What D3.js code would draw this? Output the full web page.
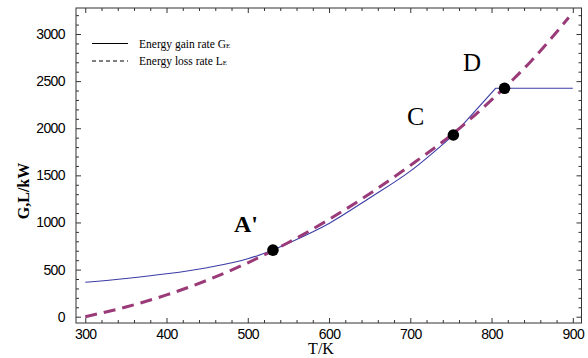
<!DOCTYPE html>
<html>
<head>
<meta charset="utf-8">
<script src="https://cdn.jsdelivr.net/npm/d3@7"></script>
<style>
  body { margin: 0; background: #fff; }
  svg { display: block; font-family: "Liberation Serif", "DejaVu Serif", serif; }
</style>
</head>
<body>
<svg id="chart" width="588" height="358"></svg>
<script>
// energy loss rate L (dashed)
const lossT = [300, 350, 400, 450, 500, 550, 600, 650, 700, 750, 800, 850, 895];
const lossV = [0, 103, 231, 387, 572, 787, 1032, 1305, 1605, 1925, 2300, 2725, 3175];

// energy gain rate G (solid): smooth part, then straight piece and flat tail
const gainT = [300, 350, 400, 450, 500, 531, 550, 600, 650, 700, 753];
const gainV = [365, 405, 455, 520, 615, 707, 780, 990, 1260, 1545, 1928];
const gainTailT = [753, 805, 900];
const gainTailV = [1928, 2424, 2424];

// marked points
const pointNames = ["A'", "C", "D"];
const pointT = [531, 753, 816];
const pointV = [707, 1928, 2424];

const xTicks = [300, 400, 500, 600, 700, 800, 900];
const yTicks = [0, 500, 1000, 1500, 2000, 2500, 3000];

const svg = d3.select("#chart");
const pLeft = 76, pRight = 581.5, pTop = 8, pBottom = 323;

const x = d3.scaleLinear().domain([288.6, 910.7]).range([pLeft, pRight]);
const y = d3.scaleLinear().domain([-66.9, 3276]).range([pBottom, pTop]);

const frameColor = "#333";

// axes: ticks pointing inward on all four sides
function styleAxis(g) {
  g.select(".domain").remove();
  g.selectAll(".tick line").attr("stroke", frameColor);
  g.selectAll("text").attr("font-size", 14).attr("fill", "#000").attr("letter-spacing", -0.6);
}

const xMinor = d3.range(300, 901, 20).filter(v => v % 100 !== 0);
const yMinor = d3.range(0, 3201, 100).filter(v => v % 500 !== 0);

svg.append("g").attr("transform", `translate(0,${pBottom})`)
  .call(d3.axisBottom(x).tickValues(xTicks).tickSize(-5).tickPadding(6).tickFormat(d3.format("d")))
  .call(styleAxis);
svg.append("g").attr("transform", `translate(0,${pBottom})`)
  .call(d3.axisBottom(x).tickValues(xMinor).tickSize(-3).tickFormat(""))
  .call(styleAxis);
svg.append("g").attr("transform", `translate(0,${pTop})`)
  .call(d3.axisTop(x).tickValues(xTicks).tickSize(-5).tickFormat(""))
  .call(styleAxis);
svg.append("g").attr("transform", `translate(0,${pTop})`)
  .call(d3.axisTop(x).tickValues(xMinor).tickSize(-3).tickFormat(""))
  .call(styleAxis);

svg.append("g").attr("transform", `translate(${pLeft},0)`)
  .call(d3.axisLeft(y).tickValues(yTicks).tickSize(-5).tickPadding(11).tickFormat(d3.format("d")))
  .call(styleAxis);
svg.append("g").attr("transform", `translate(${pLeft},0)`)
  .call(d3.axisLeft(y).tickValues(yMinor).tickSize(-3).tickFormat(""))
  .call(styleAxis);
svg.append("g").attr("transform", `translate(${pRight},0)`)
  .call(d3.axisRight(y).tickValues(yTicks).tickSize(-5).tickFormat(""))
  .call(styleAxis);
svg.append("g").attr("transform", `translate(${pRight},0)`)
  .call(d3.axisRight(y).tickValues(yMinor).tickSize(-3).tickFormat(""))
  .call(styleAxis);

// frame
svg.append("rect")
  .attr("x", pLeft).attr("y", pTop)
  .attr("width", pRight - pLeft).attr("height", pBottom - pTop)
  .attr("fill", "none").attr("stroke", frameColor).attr("stroke-width", 1);

// curves
const smooth = d3.line().x(d => x(d[0])).y(d => y(d[1])).curve(d3.curveMonotoneX);
const straight = d3.line().x(d => x(d[0])).y(d => y(d[1]));

svg.append("path")
  .attr("d", smooth(d3.zip(gainT, gainV)))
  .attr("fill", "none").attr("stroke", "#3c3ca6").attr("stroke-width", 1.1);
svg.append("path")
  .attr("d", straight(d3.zip(gainTailT, gainTailV)))
  .attr("fill", "none").attr("stroke", "#3c3ca6").attr("stroke-width", 1.1);

svg.append("path")
  .attr("d", smooth(d3.zip(lossT, lossV)))
  .attr("fill", "none").attr("stroke", "#9a3a78").attr("stroke-width", 3)
  .attr("stroke-dasharray", "12,7");

// points and labels
svg.selectAll("circle.pt")
  .data(d3.zip(pointT, pointV))
  .join("circle")
  .attr("class", "pt")
  .attr("cx", d => x(d[0])).attr("cy", d => y(d[1]))
  .attr("r", 5.8).attr("fill", "#000");

const labelPos = [
  {x: 234, y: 232, size: 24, weight: "bold"},
  {x: 407, y: 125, size: 26, weight: "normal"},
  {x: 463, y: 70.5, size: 25, weight: "normal"}
];
svg.selectAll("text.pt")
  .data(pointNames)
  .join("text")
  .attr("class", "pt")
  .attr("x", (d, i) => labelPos[i].x).attr("y", (d, i) => labelPos[i].y)
  .attr("font-size", (d, i) => labelPos[i].size)
  .attr("font-weight", (d, i) => labelPos[i].weight)
  .text(d => d);

// legend
const legend = svg.append("g");
legend.append("line").attr("x1", 92).attr("x2", 128).attr("y1", 43.5).attr("y2", 43.5)
  .attr("stroke", "#000").attr("stroke-width", 1);
legend.append("line").attr("x1", 92).attr("x2", 128).attr("y1", 61).attr("y2", 61)
  .attr("stroke", "#000").attr("stroke-width", 1).attr("stroke-dasharray", "4,3");

const lt1 = legend.append("text").attr("x", 139).attr("y", 47.5).attr("font-size", 11.5);
lt1.append("tspan").text("Energy gain rate G");
lt1.append("tspan").attr("font-size", 7).text("E");
const lt2 = legend.append("text").attr("x", 139).attr("y", 64.5).attr("font-size", 11.5);
lt2.append("tspan").text("Energy loss rate L");
lt2.append("tspan").attr("font-size", 7).text("E");

// axis titles
svg.append("text")
  .attr("x", 321).attr("y", 354.3)
  .attr("text-anchor", "middle").attr("font-size", 16)
  .text("T/K");
svg.append("text")
  .attr("transform", "translate(28.5,191) rotate(-90)")
  .attr("text-anchor", "middle").attr("font-size", 16).attr("font-weight", "bold")
  .text("G,L/kW");
</script>
</body>
</html>
